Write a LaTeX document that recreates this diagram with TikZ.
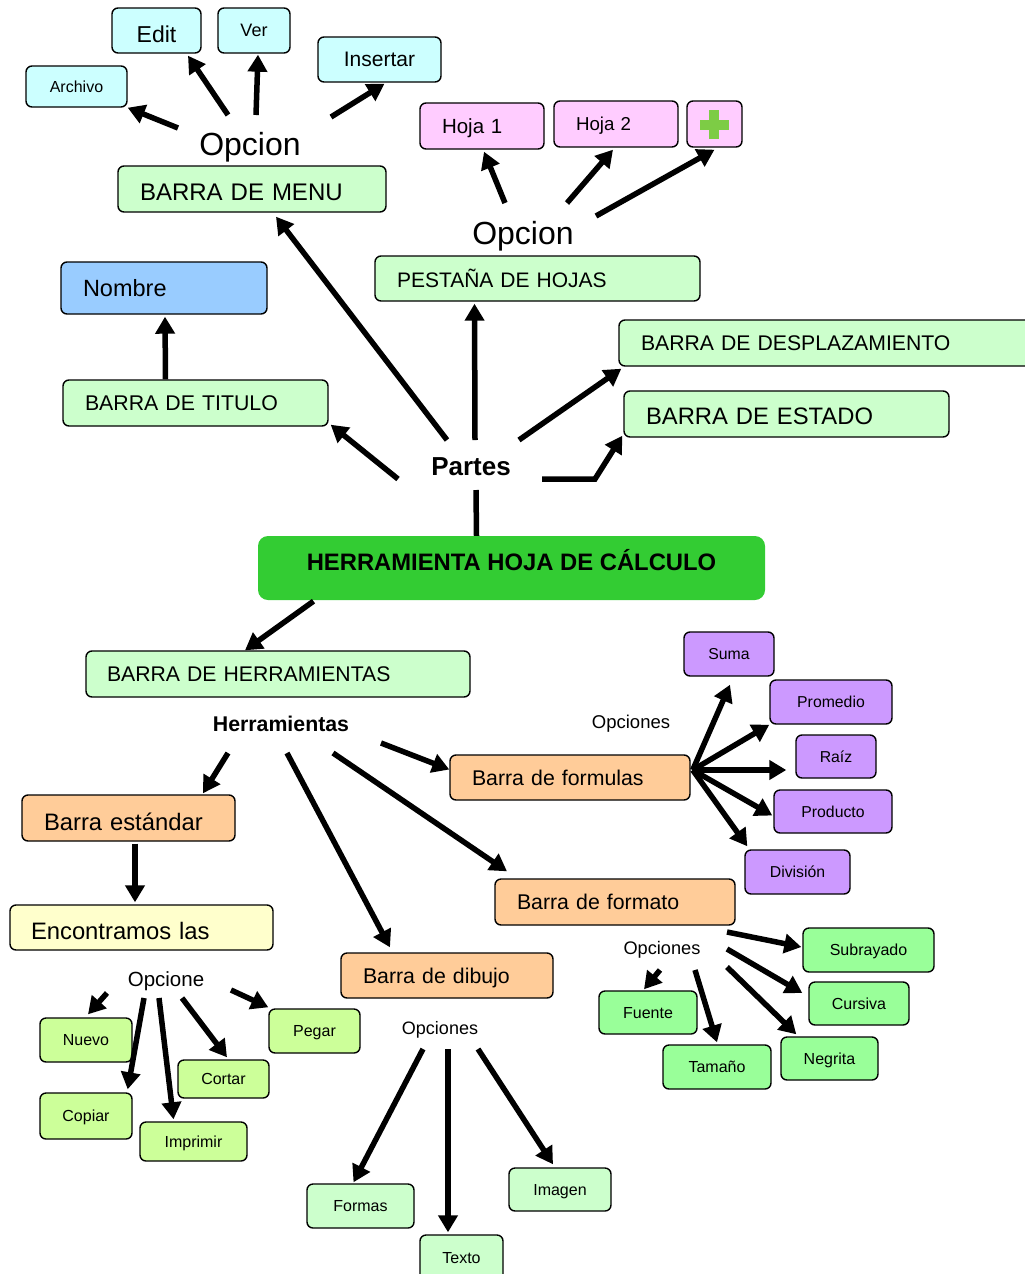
\documentclass[tikz,border=0pt]{standalone}
\usepackage{fontspec}
\setmainfont{Liberation Sans}
\usetikzlibrary{arrows.meta}
\newcommand\fsz[1]{\fontsize{#1}{#1}\selectfont}
\definecolor{cyanbox}{HTML}{CCFFFF}
\definecolor{pinkbox}{HTML}{FFCCFF}
\definecolor{ltgreen}{HTML}{CCFFCC}
\definecolor{bluebox}{HTML}{99CCFF}
\definecolor{maingreen}{HTML}{33CC33}
\definecolor{orangebox}{HTML}{FFCC99}
\definecolor{purplebox}{HTML}{CC99FF}
\definecolor{limebox}{HTML}{CCFF99}
\definecolor{greenbox}{HTML}{99FF99}
\definecolor{yellowbox}{HTML}{FFFFCC}
\definecolor{plusgreen}{HTML}{7DCC45}
\begin{document}
\begin{tikzpicture}[x=1pt,y=-1pt,
  bx/.style={draw=black,line width=1.4pt,rounded corners=6pt,inner sep=0pt,align=center,text depth=0pt},
  lb/.style={inner sep=0pt,align=center,text depth=0pt},
  arr/.style={line width=5.5pt,-{Triangle[length=17pt,width=19pt]}},
  ln/.style={line width=5.5pt}]
\useasboundingbox (0,0) rectangle (1025,1274);
\clip (0,0) rectangle (1025,1274);

% ---- top left: menu options
\node[bx,fill=cyanbox,minimum width=101pt,minimum height=41pt,font=\fsz{16}] (arch) at (76.5,86.5) {Archivo};
\node[bx,fill=cyanbox,minimum width=89pt,minimum height=45pt,font=\fsz{23},text height=24.5pt] (edit) at (156.5,30.5) {Edit};
\node[bx,fill=cyanbox,minimum width=72pt,minimum height=45pt,font=\fsz{18}] (ver) at (254,30.5) {Ver};
\node[bx,fill=cyanbox,minimum width=123pt,minimum height=45pt,font=\fsz{21}] (ins) at (379.5,59.5) {Insertar};
\node[lb,font=\fsz{32}] (opA) at (250,144) {Opcion};
\node[bx,fill=ltgreen,minimum height=46pt,text width=224pt,inner xsep=22pt,align=left,font=\fsz{24},text height=23pt] (menu) at (252,189) {BARRA DE MENU};

% ---- top right: sheets
\node[bx,fill=pinkbox,minimum height=46pt,text width=80pt,inner xsep=22pt,align=left,font=\fsz{20.5}] (h1) at (482,126) {Hoja 1};
\node[bx,fill=pinkbox,minimum height=46pt,text width=80pt,inner xsep=22pt,align=left,font=\fsz{18.7}] (h2) at (616,124) {Hoja 2};
\node[bx,fill=pinkbox,minimum width=55pt,minimum height=46pt] (plus) at (714.5,124) {};
\fill[plusgreen] ([shift={(-15,-4.5)}]plus.center) rectangle ([shift={(14,5.5)}]plus.center);
\fill[plusgreen] ([shift={(-5.5,-14)}]plus.center) rectangle ([shift={(4.5,15)}]plus.center);
\node[lb,font=\fsz{32}] (opB) at (523,233) {Opcion};
\node[bx,fill=ltgreen,minimum height=45pt,text width=281pt,inner xsep=22pt,align=left,font=\fsz{21}] (pest) at (537.5,278.5) {PESTAÑA DE HOJAS};

% ---- middle
\node[bx,fill=bluebox,minimum height=52pt,text width=162pt,inner xsep=22pt,align=left,font=\fsz{23.5}] (nombre) at (164,288) {Nombre};
\node[bx,fill=ltgreen,minimum height=46pt,text width=221pt,inner xsep=22pt,align=left,font=\fsz{21.3}] (titulo) at (195.5,403) {BARRA DE TITULO};
\node[bx,fill=ltgreen,minimum height=46pt,text width=382pt,inner xsep=22pt,align=left,font=\fsz{21.2}] (desp) at (832,343) {BARRA DE DESPLAZAMIENTO};
\node[bx,fill=ltgreen,minimum height=46pt,text width=281pt,inner xsep=22pt,align=left,font=\fsz{23.8},text height=21pt] (estado) at (786.5,414) {BARRA DE ESTADO};
\node[lb,font=\bfseries\fsz{26}] (partes) at (471,467) {Partes};
\node[fill=maingreen,rounded corners=10pt,minimum width=507pt,minimum height=64pt,inner sep=0pt,text height=17pt,text depth=12pt,font=\bfseries\fsz{23.8}] (main) at (511.5,568) {HERRAMIENTA HOJA DE CÁLCULO};

% ---- toolbar
\node[bx,fill=ltgreen,minimum height=46pt,text width=342pt,inner xsep=21pt,align=left,font=\fsz{21.2}] (bherr) at (278,674) {BARRA DE HERRAMIENTAS};
\node[lb,font=\bfseries\fsz{21.3}] (herr) at (281,724) {Herramientas};

% formulas
\node[lb,font=\fsz{18.5}] (opF) at (631,722) {Opciones};
\node[bx,fill=orangebox,minimum height=45pt,text width=196pt,inner xsep=22pt,align=left,font=\fsz{21.3}] (formulas) at (570,777.5) {Barra de formulas};
\node[bx,fill=purplebox,minimum width=90pt,minimum height=44pt,font=\fsz{15.8}] (suma) at (729,654) {Suma};
\node[bx,fill=purplebox,minimum width=122pt,minimum height=44pt,font=\fsz{15.8}] (promedio) at (831,702) {Promedio};
\node[bx,fill=purplebox,minimum width=80pt,minimum height=43pt,font=\fsz{15.8}] (raiz) at (836,756.5) {Raíz};
\node[bx,fill=purplebox,minimum width=118pt,minimum height=43pt,font=\fsz{15.8}] (producto) at (833,811.5) {Producto};
\node[bx,fill=purplebox,minimum width=105pt,minimum height=44pt,font=\fsz{15.8}] (division) at (797.5,872) {División};

% standard bar
\node[bx,fill=orangebox,minimum height=46pt,text width=169pt,inner xsep=22pt,align=left,font=\fsz{23.8},text height=24.4pt] (best) at (128.5,818) {Barra estándar};
\node[bx,fill=yellowbox,minimum height=45pt,text width=221pt,inner xsep=21pt,align=left,font=\fsz{23.8},text height=23pt] (enc) at (141.5,927.5) {Encontramos las};
\node[lb,font=\fsz{20.5}] (opE) at (166,979) {Opcione};
\node[bx,fill=limebox,minimum width=92pt,minimum height=44pt,font=\fsz{16}] (nuevo) at (86,1040) {Nuevo};
\node[bx,fill=limebox,minimum width=92pt,minimum height=46pt,font=\fsz{16}] (copiar) at (86,1116) {Copiar};
\node[bx,fill=limebox,minimum width=107pt,minimum height=39pt,font=\fsz{16}] (imprimir) at (193.5,1141.5) {Imprimir};
\node[bx,fill=limebox,minimum width=91pt,minimum height=38pt,font=\fsz{16}] (cortar) at (223.5,1079) {Cortar};
\node[bx,fill=limebox,minimum width=91pt,minimum height=44pt,font=\fsz{16}] (pegar) at (314.5,1031) {Pegar};

% drawing bar
\node[bx,fill=orangebox,minimum height=45pt,text width=168pt,inner xsep=22pt,align=left,font=\fsz{21.3}] (dibujo) at (447,975.5) {Barra de dibujo};
\node[lb,font=\fsz{18}] (opD) at (440,1028) {Opciones};
\node[bx,fill=ltgreen,minimum width=107pt,minimum height=44pt,font=\fsz{16}] (formas) at (360.5,1206) {Formas};
\node[bx,fill=ltgreen,minimum width=83pt,minimum height=46pt,font=\fsz{16}] (texto) at (461.5,1258) {Texto};
\node[bx,fill=ltgreen,minimum width=102pt,minimum height=43pt,font=\fsz{16}] (imagen) at (560,1189.5) {Imagen};

% format bar
\node[bx,fill=orangebox,minimum height=46pt,text width=196pt,inner xsep=22pt,align=left,font=\fsz{21.3}] (formato) at (615,902) {Barra de formato};
\node[lb,font=\fsz{18.2}] (opG) at (662,948) {Opciones};
\node[bx,fill=greenbox,minimum width=131pt,minimum height=44pt,font=\fsz{16}] (subr) at (868.5,950) {Subrayado};
\node[bx,fill=greenbox,minimum width=100pt,minimum height=43pt,font=\fsz{16}] (cursiva) at (859,1003.5) {Cursiva};
\node[bx,fill=greenbox,minimum width=97pt,minimum height=43pt,font=\fsz{16}] (negrita) at (829.5,1058.5) {Negrita};
\node[bx,fill=greenbox,minimum width=108pt,minimum height=44pt,font=\fsz{16}] (tamano) at (717,1067) {Tamaño};
\node[bx,fill=greenbox,minimum width=98pt,minimum height=43pt,font=\fsz{16}] (fuente) at (648,1012.5) {Fuente};

% ---- connectors
\draw[arr] ([shift={(-72,-16)}]opA.center) -- (arch.south east);
\draw[arr] ([shift={(-22,-29)}]opA.center) -- ([shift={(31.5,2)}]edit.south);
\draw[arr] ([shift={(6,-29)}]opA.center) -- ([shift={(4,1)}]ver.south);
\draw[arr] ([shift={(81,-27)}]opA.center) -- ([shift={(5,1)}]ins.south);

\draw[arr] ([shift={(-18,-30)}]opB.center) -- ([shift={(2,2)}]h1.south);
\draw[arr] ([shift={(44,-30)}]opB.center) -- ([shift={(-3,2)}]h2.south);
\draw[arr] ([shift={(73,-17)}]opB.center) -- ([shift={(0,2)}]plus.south);

\draw[arr] ([shift={(-24,-27)}]partes.center) -- ([shift={(24,4)}]menu.south);
\draw[arr] ([shift={(4,-27)}]partes.center) -- ([shift={(-63,2)}]pest.south);
\draw[arr] ([shift={(48,-27)}]partes.center) -- ([shift={(3,2)}]desp.south west);
\draw[arr] ([shift={(71,12)}]partes.center) -- ++(53,0) -- ([shift={(-1,-2)}]estado.south west);
\draw[arr] ([shift={(-73,12)}]partes.center) -- ([shift={(2,-2)}]titulo.south east);
\draw[ln] ([shift={(-35,0)}]main.north) -- ([shift={(5,23)}]partes.center);
\draw[arr] ([shift={(-30,0)}]titulo.north) -- ([shift={(1,2)}]nombre.south);
\draw[arr] ([shift={(-198,1)}]main.south) -- ([shift={(-33,0)}]bherr.north);

\draw[arr] ([shift={(-53,29)}]herr.center) -- ([shift={(74.5,-1)}]best.north);
\draw[arr] ([shift={(6,29)}]herr.center) -- ([shift={(-57,-5)}]dibujo.north);
\draw[arr] ([shift={(52,29)}]herr.center) -- ([shift={(-108,-7)}]formato.north);
\draw[arr] ([shift={(100,19)}]herr.center) -- ([shift={(0,-8)}]formulas.west);

\coordinate (hub) at ([shift={(2,-7.5)}]formulas.east);
\draw[arr] (hub) -- ([shift={(1,8)}]suma.south);
\draw[arr] (hub) -- (promedio.south west);
\draw[arr] (hub) -- ([shift={(-9,13.5)}]raiz.west);
\draw[arr] (hub) -- ([shift={(-1,4)}]producto.west);
\draw[arr] (hub) -- ([shift={(3,-3)}]division.north west);

\draw[arr] ([shift={(6.5,2)}]best.south) -- ([shift={(-6.5,-2)}]enc.north);

\draw[arr] ([shift={(-59,14)}]opE.center) -- ([shift={(2,-3)}]nuevo.north);
\draw[arr] ([shift={(-22,19)}]opE.center) -- ([shift={(-5,-3)}]copiar.north east);
\draw[arr] ([shift={(-7,19)}]opE.center) -- ([shift={(-20,-2)}]imprimir.north);
\draw[arr] ([shift={(16,19)}]opE.center) -- ([shift={(3.5,-2)}]cortar.north);
\draw[arr] ([shift={(65,11)}]opE.center) -- ([shift={(0,-1)}]pegar.north west);

\draw[arr] ([shift={(-17,21)}]opD.center) -- ([shift={(-7,-1)}]formas.north);
\draw[arr] ([shift={(8,21)}]opD.center) -- ([shift={(-13.5,-2)}]texto.north);
\draw[arr] ([shift={(38,21)}]opD.center) -- ([shift={(-7,-3)}]imagen.north);

\draw[arr] ([shift={(65,-16)}]opG.center) -- ([shift={(-1,-3)}]subr.west);
\draw[arr] ([shift={(65,1)}]opG.center) -- ([shift={(-6,-10.5)}]cursiva.west);
\draw[arr] ([shift={(65,19)}]opG.center) -- ([shift={(16,-2)}]negrita.north west);
\draw[arr] ([shift={(33,22)}]opG.center) -- ([shift={(0,-2)}]tamano.north);
\draw[arr] ([shift={(-2,22)}]opG.center) -- ([shift={(-4,-1)}]fuente.north);
\end{tikzpicture}
\end{document}
